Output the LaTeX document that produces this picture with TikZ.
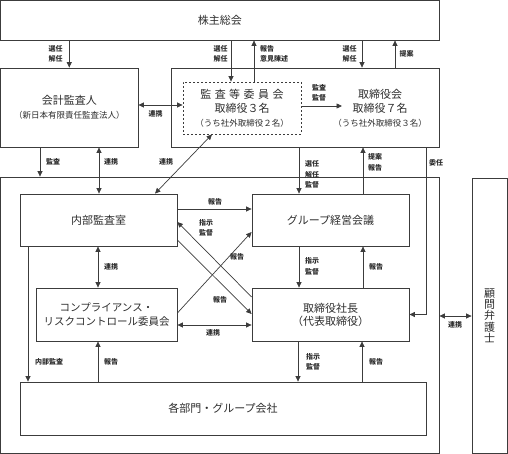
\documentclass[tikz,border=0pt]{standalone}
\usepackage{fontspec}
\setmainfont{Noto Sans CJK JP}
\usetikzlibrary{arrows.meta}
\definecolor{linec}{RGB}{60,60,60}
\definecolor{txtc}{RGB}{45,45,45}
\tikzset{
  box/.style={draw=linec, line width=0.8pt, inner sep=0pt, align=center, text=txtc, font=\fontsize{11}{15}\selectfont},
  dbox/.style={box, dashed, dash pattern=on 2pt off 2pt},
  lab/.style={inner sep=0pt, align=center, text=txtc, font=\fontsize{7}{10.5}\selectfont\bfseries},
  conn/.style={draw=linec, line width=0.7pt},
  arr/.style={conn, -{Triangle[length=5.5pt,width=5pt]}},
  darr/.style={conn, {Triangle[length=5.5pt,width=5pt]}-{Triangle[length=5.5pt,width=5pt]}},
}
\begin{document}
\begin{tikzpicture}[x=1pt,y=-1pt]
\useasboundingbox (0,0) rectangle (508,454);
% boxes
\node[box, minimum width=438.5pt, minimum height=39.5pt] (kabu) at (219.75,20.25) {株主総会};
\node[box, minimum width=137.5pt, minimum height=79pt] (kaikei) at (69.25,107.5)
  {会計監査人\\[-1pt]{\fontsize{8.5}{11}\selectfont （新日本有限責任監査法人）}};
\node[box, minimum width=268pt, minimum height=79pt] (tori) at (305,107.5) {};
\node[dbox, minimum width=118pt, minimum height=52pt] (kansa) at (242,108)
  {監\kern3.5pt 査\kern3.5pt 等\kern3.5pt 委\kern3.5pt 員\kern3.5pt 会\\[-1pt]取締役３名\\[-1pt]{\fontsize{8.5}{11}\selectfont （うち社外取締役２名）}};
\node[inner sep=0pt, align=center, text=txtc, font=\fontsize{11}{15}\selectfont] (torikai) at (380,108)
  {取締役会\\[-1pt]取締役７名\\[-1pt]{\fontsize{8.5}{11}\selectfont （うち社外取締役３名）}};
\coordinate (torin) at (342,106);
\node[box, minimum width=438.5pt, minimum height=276pt] (big) at (219.75,315) {};
\node[box, minimum width=157pt, minimum height=52pt] (naibu) at (98.5,220) {内部監査室};
\node[box, minimum width=141pt, minimum height=53pt, font=\fontsize{10.5}{14}\selectfont] (comp) at (106.5,314.5)
  {コンプライアンス・\\リスクコントロール委員会};
\node[box, minimum width=157pt, minimum height=52pt] (group) at (330.5,220) {グループ経営会議};
\node[box, minimum width=157pt, minimum height=53pt, font=\fontsize{11}{13}\selectfont] (shacho) at (330.5,314.5)
  {取締役社長\\（代表取締役）};
\node[box, minimum width=406pt, minimum height=53pt] (kakubu) at (223,408.5) {各部門・グループ会社};
\node[box, minimum width=35pt, minimum height=275pt, font=\fontsize{11}{11.3}\selectfont] (komon) at (489.5,315.5)
  {顧\\問\\弁\\護\\士};
% top connectors
\draw[arr] (kabu.south -| kaikei.north) -- (kaikei.north);
\draw[arr] (kabu.south -| 231,0) -- (kansa.north -| 231,0);
\draw[arr] (kansa.north -| 254,0) -- (kabu.south -| 254,0);
\draw[arr] (kabu.south -| 362,0) -- (tori.north -| 362,0);
\draw[arr] (tori.north -| 395,0) -- (kabu.south -| 395,0);
\draw[darr] (kaikei.east |- 0,105) -- (kansa.west |- 0,105);
\draw[arr] (kansa.east |- torin) -- (torin);
\draw[arr] (kaikei.south -| 40,0) -- (big.north -| 40,0);
\draw[darr] (kaikei.south -| 99,0) -- (naibu.north -| 99,0);
\draw[darr] (naibu.north -| 155,0) -- (kansa.south -| 212,0);
\draw[arr] (tori.south -| 299,0) -- (group.north -| 299,0);
\draw[arr] (group.north -| 363,0) -- (tori.south -| 363,0);
\draw[arr] (tori.south -| 426,0) |- (shacho.east);
\draw[darr] (big.east |- 0,316) -- (komon.west |- 0,316);
% middle
\draw[arr] (naibu.east |- 0,209) -- (group.west |- 0,209);
\draw[arr] (naibu.east |- 0,240) -- (shacho.west |- 0,314);
\draw[arr] (comp.east |- 0,313) -- (group.west |- 0,232);
\draw[arr] (shacho.west |- 0,297) -- (naibu.east |- 0,222);
\draw[darr] (comp.east |- 0,325) -- (shacho.west |- 0,325);
\draw[darr] (naibu.south -| 98,0) -- (comp.north -| 98,0);
\draw[arr] (group.south -| 299,0) -- (shacho.north -| 299,0);
\draw[arr] (shacho.north -| 363,0) -- (group.south -| 363,0);
% bottom
\draw[arr] (naibu.south -| 28,0) -- (kakubu.north -| 28,0);
\draw[arr] (kakubu.north -| 98,0) -- (comp.south -| 98,0);
\draw[arr] (shacho.south -| 298,0) -- (kakubu.north -| 298,0);
\draw[arr] (kakubu.north -| 362,0) -- (shacho.south -| 362,0);
% labels
\node[lab] (l1) at (55.5,54) {選任\\解任};
\node[lab] (l2) at (220.5,54) {選任\\解任};
\node[lab, anchor=west, align=left] (l3) at (260,54) {報告\\意見陳述};
\node[lab] (l4) at (349.5,54) {選任\\解任};
\node[lab] (l5) at (406.5,54) {提案};
\node[lab] (l6) at (155.5,114) {連携};
\node[lab] (l7) at (319,93) {監査\\監督};
\node[lab] (l8) at (53,162) {監査};
\node[lab] (l9) at (111,162) {連携};
\node[lab] (l10) at (166,162) {連携};
\node[lab] (l11) at (312,174.5) {選任\\解任\\監督};
\node[lab] (l12) at (375,162.5) {提案\\報告};
\node[lab] (l13) at (436,163) {委任};
\node[lab] (l14) at (215,202) {報告};
\node[lab] (l15) at (206,228) {指示\\監督};
\node[lab] (l16) at (237,257) {報告};
\node[lab] (l17) at (220,300) {報告};
\node[lab] (l18) at (213,333) {連携};
\node[lab] (l19) at (455,325) {連携};
\node[lab] (l20) at (312,266.5) {指示\\監督};
\node[lab] (l21) at (376,267) {報告};
\node[lab] (l22) at (111,267) {連携};
\node[lab] (l23) at (49,362) {内部監査};
\node[lab] (l24) at (111,362) {報告};
\node[lab] (l25) at (313,362) {指示\\監督};
\node[lab] (l26) at (376,362) {報告};
\end{tikzpicture}
\end{document}
